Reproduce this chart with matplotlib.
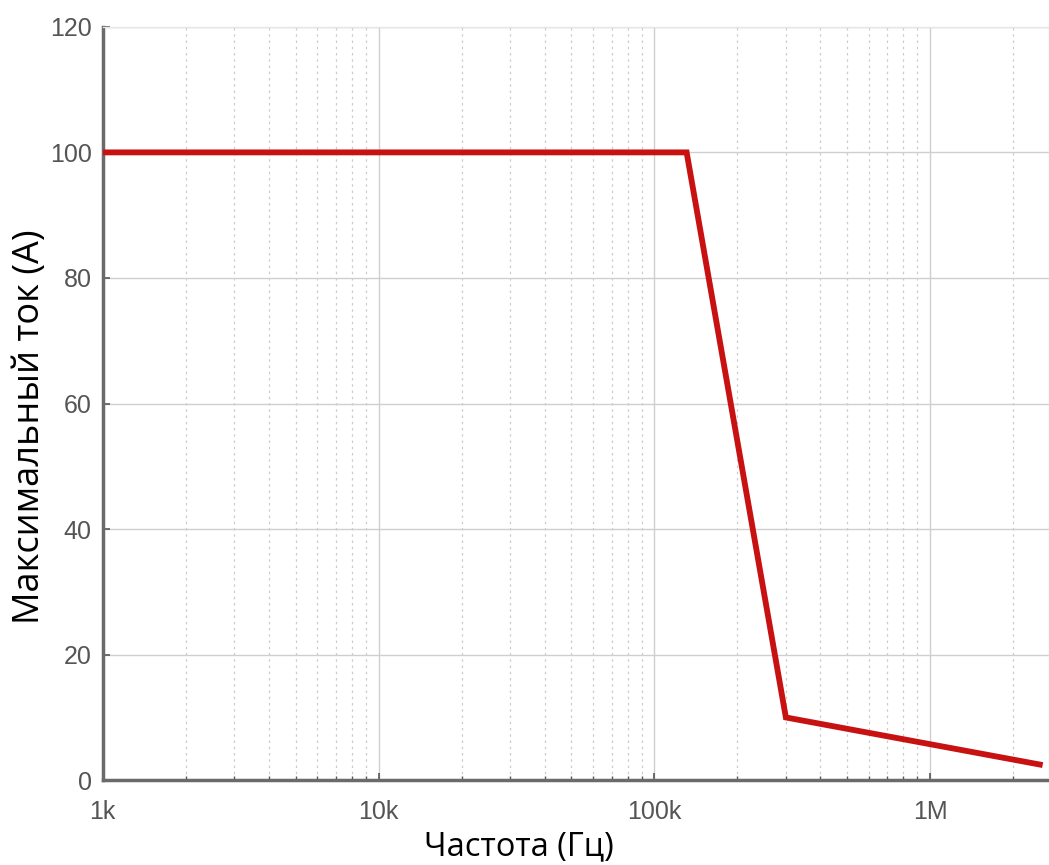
import numpy as np
import matplotlib.pyplot as plt
from matplotlib.ticker import FixedLocator, LogLocator, NullFormatter

# data
freq_hz = [1e3, 1.31e5, 3.0e5, 2.5e6]
max_current_a = [100, 100, 10, 2.5]

x_ticks = [1e3, 1e4, 1e5, 1e6]
x_tick_labels = ["1k", "10k", "100k", "1M"]
y_ticks = [0, 20, 40, 60, 80, 100, 120]

fig = plt.figure(figsize=(10.49, 8.65), dpi=100)
ax = fig.add_axes([0.098, 0.098, 0.902, 0.871])

ax.plot(freq_hz, max_current_a, color="#c81212", lw=4.2, solid_joinstyle="miter", zorder=5)

ax.set_xscale("log")
ax.set_xlim(1e3, 2.7e6)
ax.set_ylim(0, 120)

ax.xaxis.set_major_locator(FixedLocator(x_ticks))
ax.set_xticklabels(x_tick_labels)
ax.xaxis.set_minor_locator(LogLocator(base=10, subs=np.arange(2, 10)))
ax.xaxis.set_minor_formatter(NullFormatter())
ax.set_yticks(y_ticks)

ax.grid(which="major", color="#cfcfcf", lw=1.0, ls="-")
ax.grid(which="minor", axis="x", color="#cccccc", lw=0.9, ls=(0, (2, 3)))

for side in ["left", "bottom"]:
    ax.spines[side].set_color("#6a6a6a")
    ax.spines[side].set_linewidth(2.5)
for side in ["top", "right"]:
    ax.spines[side].set_color("#e6e6e6")
    ax.spines[side].set_linewidth(1.0)

ax.tick_params(which="major", direction="in", length=5, width=1.2, color="#555555",
               labelsize=18, labelcolor="#555555")
ax.tick_params(axis="x", which="major", pad=14)
ax.tick_params(axis="y", which="major", pad=8)
ax.tick_params(which="minor", direction="in", length=3, width=1.0, color="#555555")
for lab in ax.get_xticklabels() + ax.get_yticklabels():
    lab.set_family(["Liberation Sans", "DejaVu Sans"])

ax.set_xlabel("Частота (Гц)", fontsize=23.5, family=["Open Sans", "DejaVu Sans"])
ax.set_ylabel("Максимальный ток (А)", fontsize=26, family=["Open Sans", "DejaVu Sans"])
ax.xaxis.set_label_coords(0.44, -0.066)
ax.yaxis.set_label_coords(-0.058, 0.469)

fig.savefig("out.png", dpi=100)
